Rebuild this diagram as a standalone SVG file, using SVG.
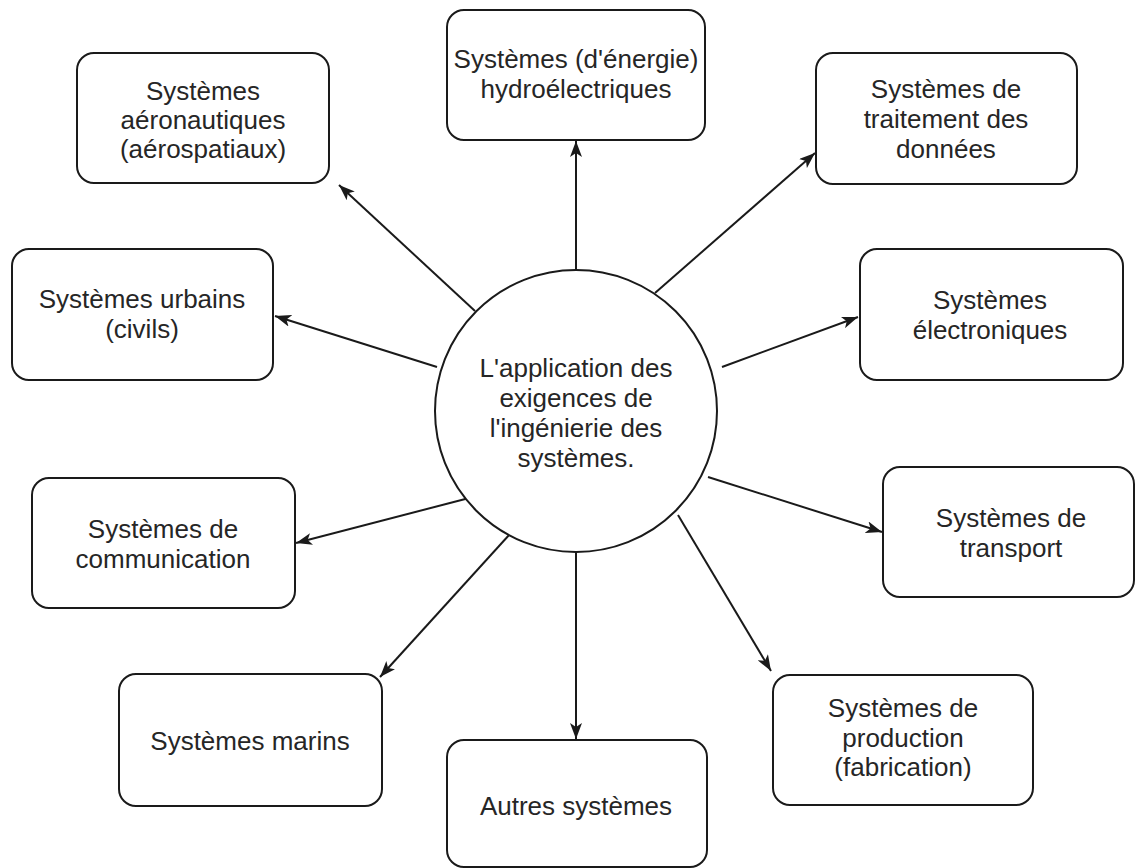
<svg xmlns="http://www.w3.org/2000/svg" width="1135" height="868" viewBox="0 0 1135 868">
  <defs>
    <style>
      .box { fill: #ffffff; stroke: #1a1a1a; stroke-width: 2; }
      .hub { fill: #ffffff; stroke: #1a1a1a; stroke-width: 2; }
      .lbl { font-family: "Liberation Sans", Arial, sans-serif; font-size: 26px; fill: #262626; text-anchor: middle; }
      .edge { fill: none; stroke: #1a1a1a; stroke-width: 2; marker-end: url(#arrow); }
    </style>
    <marker id="arrow" viewBox="0 0 16 12" refX="16" refY="6" markerWidth="16" markerHeight="12" orient="auto" markerUnits="userSpaceOnUse">
      <path d="M0,0 L16,6 L0,12 L4,6 Z" fill="#1a1a1a"/>
    </marker>
  </defs>
  <rect width="1135" height="868" fill="#ffffff"/>

  <!-- connectors from the central circle to each system -->
  <g id="connectors">
    <line class="edge" x1="576" y1="270" x2="576" y2="141"/>
    <line class="edge" x1="475" y1="311" x2="339" y2="185"/>
    <line class="edge" x1="655" y1="293" x2="815" y2="153"/>
    <line class="edge" x1="437" y1="367" x2="275" y2="316"/>
    <line class="edge" x1="722" y1="367" x2="858" y2="317"/>
    <line class="edge" x1="473" y1="497" x2="296" y2="543"/>
    <line class="edge" x1="708" y1="477" x2="882" y2="532"/>
    <line class="edge" x1="510" y1="534" x2="380" y2="677"/>
    <line class="edge" x1="576" y1="553" x2="576" y2="739"/>
    <line class="edge" x1="678" y1="515" x2="771" y2="671"/>
  </g>

  <g id="center">
    <circle class="hub" cx="576" cy="411" r="141"/>
    <text class="lbl" x="576" y="377">L'application des</text>
    <text class="lbl" x="576" y="407">exigences de</text>
    <text class="lbl" x="576" y="437">l'ingénierie des</text>
    <text class="lbl" x="576" y="467">systèmes.</text>
  </g>

  <g id="aeronautiques">
    <rect class="box" x="77" y="53" width="252" height="130" rx="17"/>
    <text class="lbl" x="203" y="100">Systèmes</text>
    <text class="lbl" x="203" y="129">aéronautiques</text>
    <text class="lbl" x="203" y="158">(aérospatiaux)</text>
  </g>

  <g id="hydroelectriques">
    <rect class="box" x="447" y="10" width="258" height="130" rx="17"/>
    <text class="lbl" x="576" y="68">Systèmes (d'énergie)</text>
    <text class="lbl" x="576" y="98">hydroélectriques</text>
  </g>

  <g id="traitement">
    <rect class="box" x="816" y="53" width="261" height="131" rx="17"/>
    <text class="lbl" x="946" y="98">Systèmes de</text>
    <text class="lbl" x="946" y="128">traitement des</text>
    <text class="lbl" x="946" y="158">données</text>
  </g>

  <g id="urbains">
    <rect class="box" x="12" y="249" width="261" height="131" rx="17"/>
    <text class="lbl" x="142" y="308">Systèmes urbains</text>
    <text class="lbl" x="142" y="338">(civils)</text>
  </g>

  <g id="electroniques">
    <rect class="box" x="860" y="249" width="263" height="131" rx="17"/>
    <text class="lbl" x="990" y="309">Systèmes</text>
    <text class="lbl" x="990" y="339">électroniques</text>
  </g>

  <g id="communication">
    <rect class="box" x="32" y="478" width="263" height="130" rx="17"/>
    <text class="lbl" x="163" y="538">Systèmes de</text>
    <text class="lbl" x="163" y="568">communication</text>
  </g>

  <g id="transport">
    <rect class="box" x="883" y="467" width="251" height="130" rx="17"/>
    <text class="lbl" x="1011" y="527">Systèmes de</text>
    <text class="lbl" x="1011" y="557">transport</text>
  </g>

  <g id="marins">
    <rect class="box" x="119" y="674" width="263" height="132" rx="17"/>
    <text class="lbl" x="250" y="750">Systèmes marins</text>
  </g>

  <g id="autres">
    <rect class="box" x="447" y="740" width="260" height="127" rx="17"/>
    <text class="lbl" x="576" y="815">Autres systèmes</text>
  </g>

  <g id="production">
    <rect class="box" x="773" y="675" width="260" height="130" rx="17"/>
    <text class="lbl" x="903" y="717">Systèmes de</text>
    <text class="lbl" x="903" y="747">production</text>
    <text class="lbl" x="903" y="776">(fabrication)</text>
  </g>
</svg>
